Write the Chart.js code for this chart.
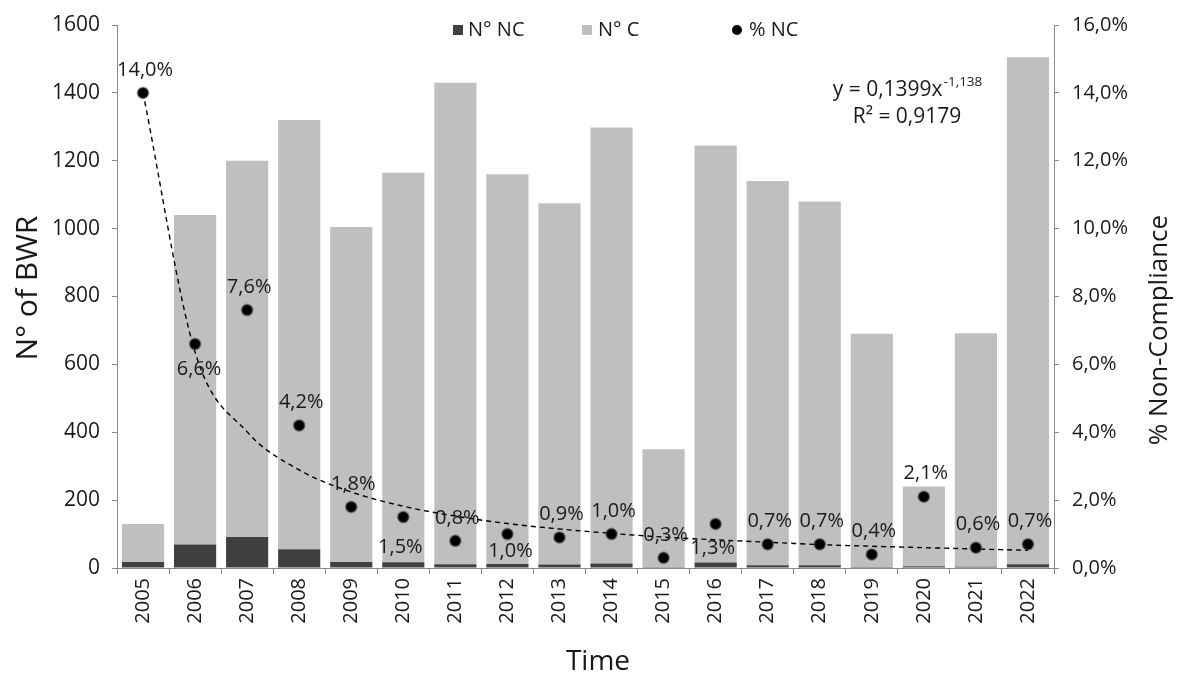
<!DOCTYPE html>
<html>
<head>
<meta charset="utf-8">
<script src="https://cdn.jsdelivr.net/npm/chart.js@4.4.1/dist/chart.umd.min.js"></script>
<style>
  html, body { margin: 0; padding: 0; background: #ffffff; }
  #wrap { width: 1180px; height: 682px; position: relative; }
</style>
</head>
<body>
<div id="wrap"><canvas id="c" width="1180" height="682"></canvas></div>
<script>
// ---- data ----
const years = ['2005','2006','2007','2008','2009','2010','2011','2012','2013','2014','2015','2016','2017','2018','2019','2020','2021','2022'];
const ncCount = [18, 69, 91, 55, 18, 17, 11, 12, 10, 13, 1, 16, 8, 8, 3, 5, 4, 11];
const cCount  = [112, 971, 1109, 1265, 987, 1148, 1419, 1148, 1065, 1285, 349, 1229, 1132, 1072, 687, 235, 688, 1494];
const pctNC   = [14.0, 6.6, 7.6, 4.2, 1.8, 1.5, 0.8, 1.0, 0.9, 1.0, 0.3, 1.3, 0.7, 0.7, 0.4, 2.1, 0.6, 0.7];
const trendNC = [14.0, 6.36, 4.01, 2.89, 2.24, 1.82, 1.53, 1.31, 1.15, 1.02, 0.91, 0.83, 0.76, 0.69, 0.64, 0.60, 0.56, 0.52];
const labelsBelow = ['2006', '2010', '2012', '2016'];
const trendEquation = 'y = 0,1399x';
const trendExponent = '-1,138';
const trendR2 = 'R² = 0,9179';
const leftTitle = 'N° of BWR';
const rightTitle = '% Non-Compliance';
const bottomTitle = 'Time';

const FONT = '"Open Sans", "DejaVu Sans", sans-serif';
const TXT = '#1a1a1a';
const AXIS = '#8a8a8a';
const fmtPct = v => v.toFixed(1).replace('.', ',') + '%';

// label placement tweaks (style only)
const belowOffset = { '2006': 25, '2010': 30, '2012': 17, '2016': 24 };
const belowShift  = { '2006': 4, '2010': -3, '2012': 3, '2016': -3 };

const overlay = {
  id: 'overlay',
  afterDatasetsDraw(chart) {
    const ctx = chart.ctx;
    const ca = chart.chartArea;
    ctx.save();
    // data labels
    const meta = chart.getDatasetMeta(3);
    ctx.font = '20px ' + FONT;
    ctx.fillStyle = TXT;
    ctx.textAlign = 'center';
    ctx.textBaseline = 'middle';
    meta.data.forEach((pt, i) => {
      const y = years[i];
      if (labelsBelow.includes(y)) {
        ctx.fillText(fmtPct(pctNC[i]), pt.x + belowShift[y], pt.y + belowOffset[y]);
      } else {
        ctx.fillText(fmtPct(pctNC[i]), pt.x + 2, pt.y - 23);
      }
    });

    // legend
    const ly = ca.top + 5;
    ctx.font = '20px ' + FONT;
    ctx.textAlign = 'left';
    ctx.fillStyle = '#404040';
    ctx.fillRect(453, ly - 5, 10, 10);
    ctx.fillStyle = TXT;
    ctx.fillText('N° NC', 468, ly);
    ctx.fillStyle = '#bfbfbf';
    ctx.fillRect(582, ly - 5, 10, 10);
    ctx.fillStyle = TXT;
    ctx.fillText('N° C', 598, ly);
    ctx.fillStyle = '#000';
    ctx.beginPath(); ctx.arc(737, ly, 5, 0, Math.PI * 2); ctx.fill();
    ctx.fillStyle = TXT;
    ctx.fillText('% NC', 749, ly);

    // trend equation
    const cx = 907;
    ctx.font = '21px ' + FONT;
    const w1 = ctx.measureText(trendEquation).width;
    ctx.font = '13.5px ' + FONT;
    const w2 = ctx.measureText(trendExponent).width;
    const x0 = cx - (w1 + w2) / 2;
    ctx.font = '21px ' + FONT;
    ctx.fillText(trendEquation, x0, 90);
    ctx.font = '13.5px ' + FONT;
    ctx.fillText(trendExponent, x0 + w1 + 1, 82);
    ctx.font = '21px ' + FONT;
    ctx.textAlign = 'center';
    ctx.fillText(trendR2, cx, 117);

    // axis titles
    ctx.fillStyle = TXT;
    ctx.textAlign = 'center';
    ctx.textBaseline = 'middle';
    ctx.font = '30px ' + FONT;
    ctx.save(); ctx.translate(28, 288); ctx.rotate(-Math.PI / 2); ctx.fillText(leftTitle, 0, 0); ctx.restore();
    ctx.font = '26px ' + FONT;
    ctx.save(); ctx.translate(1160, 330); ctx.rotate(-Math.PI / 2); ctx.fillText(rightTitle, 0, 0); ctx.restore();
    ctx.font = '28px ' + FONT;
    ctx.fillText(bottomTitle, 598, 662);
    ctx.restore();
  }
};

new Chart(document.getElementById('c'), {
  data: {
    labels: years,
    datasets: [
      { type: 'bar', label: 'N° NC', data: ncCount, backgroundColor: '#404040', yAxisID: 'y', order: 3,
        barPercentage: 0.81, categoryPercentage: 1.0 },
      { type: 'bar', label: 'N° C', data: cCount, backgroundColor: '#bfbfbf', yAxisID: 'y', order: 3,
        barPercentage: 0.81, categoryPercentage: 1.0 },
      { type: 'line', label: 'trend', data: trendNC, yAxisID: 'y1', order: 2,
        borderColor: '#000', borderWidth: 1.4, borderDash: [5, 4], pointRadius: 0,
        cubicInterpolationMode: 'monotone', fill: false },
      { type: 'line', label: '% NC', data: pctNC, yAxisID: 'y1', order: 1, showLine: false,
        pointRadius: 5.5, pointBackgroundColor: '#000', pointBorderColor: 'rgba(70,70,70,0.45)', pointBorderWidth: 2 }
    ]
  },
  options: {
    responsive: false,
    animation: false,
    devicePixelRatio: 1,
    layout: { padding: { top: 23, left: 0, right: 0, bottom: 0 } },
    plugins: { legend: { display: false }, tooltip: { enabled: false } },
    scales: {
      x: {
        stacked: true,
        grid: { offset: true, drawOnChartArea: false, tickLength: 6, color: AXIS },
        border: { color: AXIS, width: 1 },
        ticks: { minRotation: 90, maxRotation: 90, padding: 4, color: TXT, font: { family: FONT, size: 20 } },
        afterFit(s) { s.height = 114; }
      },
      y: {
        position: 'left', stacked: true, min: 0, max: 1600,
        grid: { drawOnChartArea: false, tickLength: 5, color: AXIS },
        border: { color: AXIS, width: 1 },
        ticks: { stepSize: 200, padding: 12, color: TXT, font: { family: FONT, size: 21 }, callback: v => String(v) },
        afterFit(s) { s.width = 117; }
      },
      y1: {
        position: 'right', min: 0, max: 16,
        grid: { drawOnChartArea: false, tickLength: 5, color: AXIS },
        border: { color: AXIS, width: 1 },
        ticks: { stepSize: 2, padding: 13, color: TXT, font: { family: FONT, size: 20 }, callback: v => fmtPct(v) },
        afterFit(s) { s.width = 126; }
      }
    }
  },
  plugins: [overlay]
});
</script>
</body>
</html>
